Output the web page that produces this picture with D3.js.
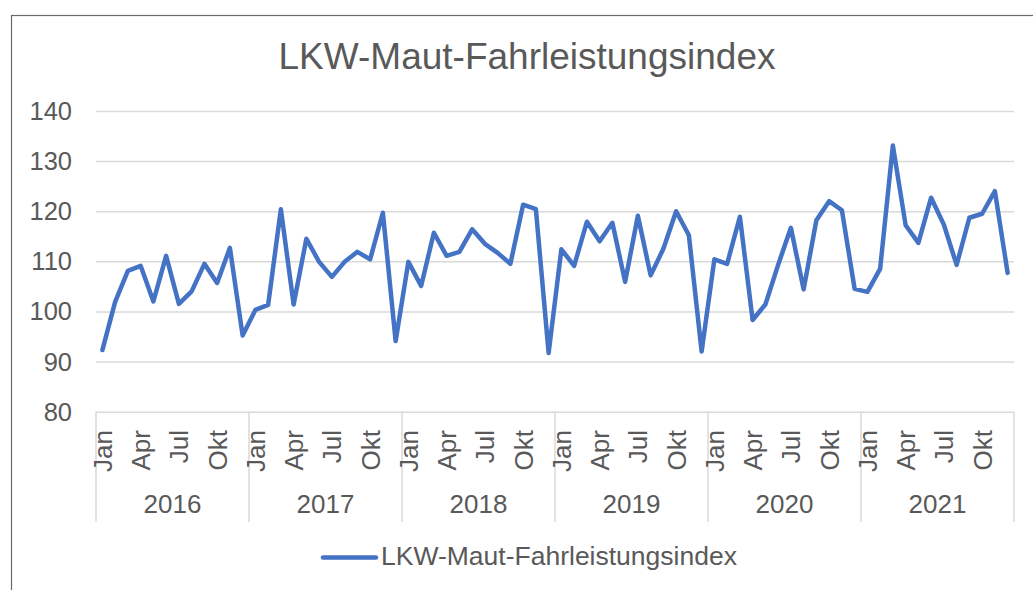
<!DOCTYPE html>
<html>
<head>
<meta charset="utf-8">
<script src="https://cdn.jsdelivr.net/npm/d3@7"></script>
<style>
  body { margin: 0; background: #fff; }
  svg text { font-family: Arial, "Liberation Sans", sans-serif; fill: #595959; }
</style>
</head>
<body>
<svg id="chart" width="1033" height="590"></svg>
<script>
// data
var years = ["2016", "2017", "2018", "2019", "2020", "2021"];
var monthNames = ["Jan", "Feb", "Mrz", "Apr", "Mai", "Jun", "Jul", "Aug", "Sep", "Okt", "Nov", "Dez"];
var shownMonths = ["Jan", "Apr", "Jul", "Okt"];
var yTicks = [80, 90, 100, 110, 120, 130, 140];
var seriesName = "LKW-Maut-Fahrleistungsindex";
var values = [
    92.3, 101.9, 108.1, 109.1, 102.0, 111.1, 101.5, 104.0, 109.5, 105.7, 112.7, 95.2,
    100.3, 101.3, 120.4, 101.4, 114.5, 109.9, 106.9, 109.9, 111.9, 110.4, 119.7, 94.1,
    109.9, 105.1, 115.7, 111.1, 111.9, 116.4, 113.5, 111.7, 109.5, 121.3, 120.4, 91.7,
    112.4, 109.1, 117.9, 114.0, 117.7, 105.9, 119.1, 107.2, 112.5, 120.0, 115.2, 92.0,
    110.4, 109.5, 118.9, 98.3, 101.4, 109.3, 116.7, 104.4, 118.2, 122.0, 120.2, 104.5,
    103.9, 108.5, 133.1, 117.2, 113.7, 122.7, 117.3, 109.3, 118.7, 119.5, 124.0, 107.7
];

var data = [];
years.forEach(function(yr, yi) {
    monthNames.forEach(function(m, mi) {
        data.push({year: yr, month: m, key: yr + "-" + m, value: values[yi * 12 + mi]});
    });
});

var svg = d3.select("#chart");
var plotLeft = 96, plotRight = 1014, plotTop = 111, plotBottom = 411.7;

// chart frame
svg.append("rect")
    .attr("x", 11.5).attr("y", 15.5)
    .attr("width", 1060).attr("height", 620)
    .attr("fill", "none")
    .attr("stroke", "#6a6a6a")
    .attr("stroke-width", 1.2);

var x = d3.scaleBand()
    .domain(data.map(function(d) { return d.key; }))
    .range([plotLeft, plotRight]);

var y = d3.scaleLinear()
    .domain([80, 140])
    .range([plotBottom, plotTop]);

var yearX = d3.scaleBand()
    .domain(years)
    .range([plotLeft, plotRight]);

// title
svg.append("text")
    .attr("x", 527)
    .attr("y", 69)
    .attr("text-anchor", "middle")
    .style("font-size", "37px")
    .text(seriesName);

// gridlines
svg.append("g")
    .attr("transform", "translate(" + plotLeft + ",0)")
    .call(d3.axisLeft(y).tickValues(yTicks).tickSize(-(plotRight - plotLeft)).tickFormat(""))
    .call(function(g) {
        g.select(".domain").remove();
        g.selectAll("line").attr("stroke", "#d9d9d9").attr("stroke-width", 1.5);
    });

// y labels
svg.append("g")
    .selectAll("text")
    .data(yTicks)
    .enter()
    .append("text")
    .attr("x", 72)
    .attr("y", function(d) { return y(d); })
    .attr("dy", "0.35em")
    .attr("text-anchor", "end")
    .style("font-size", "25.5px")
    .text(function(d) { return d; });

// year separators
var seps = years.map(function(yr) { return yearX(yr); }).concat([plotRight]);
svg.append("g")
    .selectAll("line")
    .data(seps)
    .enter()
    .append("line")
    .attr("x1", function(d) { return d; })
    .attr("x2", function(d) { return d; })
    .attr("y1", plotBottom)
    .attr("y2", 522)
    .attr("stroke", "#d9d9d9")
    .attr("stroke-width", 1.5);

// month labels
svg.append("g")
    .selectAll("text")
    .data(data.filter(function(d) { return shownMonths.indexOf(d.month) >= 0; }))
    .enter()
    .append("text")
    .attr("transform", function(d) {
        return "translate(" + (x(d.key) + x.bandwidth() / 2) + ",430) rotate(-90)";
    })
    .attr("dy", "0.36em")
    .attr("text-anchor", "end")
    .style("font-size", "26px")
    .text(function(d) { return d.month; });

// year labels
svg.append("g")
    .selectAll("text")
    .data(years)
    .enter()
    .append("text")
    .attr("x", function(d) { return yearX(d) + yearX.bandwidth() / 2; })
    .attr("y", 513)
    .attr("text-anchor", "middle")
    .style("font-size", "26px")
    .text(function(d) { return d; });

// line
svg.append("path")
    .datum(data)
    .attr("fill", "none")
    .attr("stroke", "#4472c4")
    .attr("stroke-width", 4.5)
    .attr("stroke-linejoin", "round")
    .attr("stroke-linecap", "round")
    .attr("d", d3.line()
        .x(function(d) { return x(d.key) + x.bandwidth() / 2; })
        .y(function(d) { return y(d.value); }));

// legend
svg.append("line")
    .attr("x1", 323).attr("x2", 376)
    .attr("y1", 557.5).attr("y2", 557.5)
    .attr("stroke", "#4472c4")
    .attr("stroke-width", 4.5)
    .attr("stroke-linecap", "round");

svg.append("text")
    .attr("x", 381)
    .attr("y", 565)
    .style("font-size", "26.5px")
    .text(seriesName);
</script>
</body>
</html>
